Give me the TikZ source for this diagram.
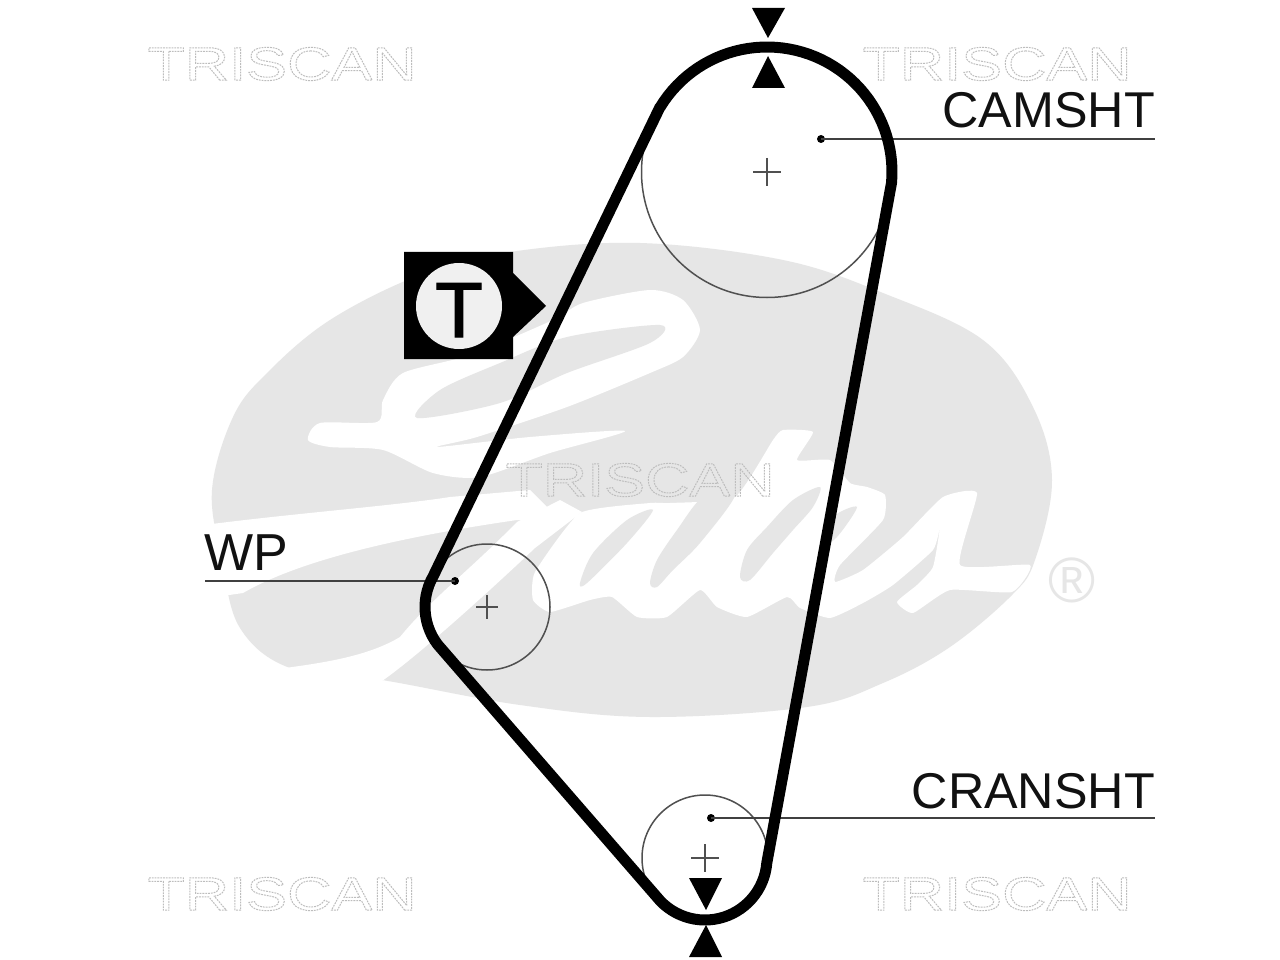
\documentclass[tikz,border=0pt]{standalone}
\usepackage{fontspec}
\setmainfont{Liberation Sans}
\newfontfamily\wmfont[FakeStretch=1.305]{Liberation Sans}
\definecolor{logogrey}{HTML}{E6E6E6}
\definecolor{thinline}{HTML}{505050}
\definecolor{leader}{HTML}{404040}
\definecolor{labeltext}{HTML}{111111}
\newcommand{\outlinetext}[1]{\special{pdf:code q 1 Tr 1.0 w 0.74 0.74 0.74 RG [1.8 1.0] 0 d}#1\special{pdf:code Q}}
\newcommand{\boldtext}[1]{\special{pdf:code q 2 Tr 1.3 w 0 0 0 RG}#1\special{pdf:code Q}}
\tikzset{
  lab/.style={anchor=base east,inner sep=0pt,text=labeltext,font=\fontsize{50.3}{50}\selectfont},
  wm/.style={anchor=center,inner sep=0pt,font=\wmfont\fontsize{47}{47}\selectfont},
  pulley/.style={circle,draw=thinline,line width=1.5pt,inner sep=0pt},
  dotn/.style={circle,fill=black,inner sep=0pt,minimum size=8pt},
  leaderline/.style={draw=leader,line width=2.5pt},
  crossline/.style={draw=thinline,line width=2pt},
  beltline/.style={draw=black,line width=11pt,line join=round},
  timingmark/.style={fill=black},
  logofill/.style={fill=logogrey},
  logowhite/.style={fill=white}
}
\begin{document}
\begin{tikzpicture}[x=1pt,y=-1pt]
\useasboundingbox (0,0) rectangle (1280,960);
\fill[white] (0,0) rectangle (1280,960);
% logo body
\fill[logofill] plot[smooth cycle,tension=.6] coordinates {(212,490)(233,417)(267,373)(330,320)(420,275)(510,252)(640,243)(783,260)(883,293)(983,340)(1033,407)(1052,480)(1035,560)(1012,595)(950,647)(883,683)(807,707)(650,717)(520,705)(382,680)(290,668)(240,628)(222,560)};
% white band between lobes
\fill[logowhite] (195,526) -- (220,523) .. controls (300,513) and (400,505) .. (450,497) -- (530,490) -- (560,520) -- (517,520) .. controls (400,537) and (300,560) .. (243,593) -- (195,600) -- cycle;
% descender
\fill[logowhite] (517,522) .. controls (470,570) and (430,600) .. (400,637) .. controls (370,655) and (330,662) .. (285,668) -- (290,700) -- (382,681) .. controls (415,658) and (480,600) .. (535,548) -- (582,512) -- (560,500) -- cycle;
% G top
\fill[logowhite] plot[smooth cycle,tension=.45] coordinates {(308,440)(320,423)(377,422)(383,400)(403,373)(470,355)(553,320)(583,303)(650,290)(683,300)(700,330)(683,357)(650,373)(567,407)(477,437)(437,447)(530,437)(625,431)(550,453)(480,477)(433,473)(383,450)(330,447)};
\fill[logofill] plot[smooth cycle,tension=.5] coordinates {(417,418)(440,390)(500,363)(567,337)(660,325)(650,343)(567,373)(500,403)};
% script body
\fill[logowhite] plot[smooth cycle,tension=.3] coordinates {(580,513)(650,503)(670,503)(735,497)(773,440)(783,430)(813,432)(797,460)(830,460)(850,483)(867,487)(885,495)(883,520)(840,565)(835,582)(863,570)(903,537)(943,497)(977,493)(960,565)(1030,565)(1012,592)(950,590)(913,613)(897,602)(917,585)(933,567)(940,527)(933,550)(893,585)(863,603)(830,618)(800,608)(787,597)(747,617)(717,607)(700,590)(667,617)(637,617)(612,597)(590,600)(550,612)(533,600)(535,572)};
% script counters
\fill[logofill] plot[smooth cycle,tension=.5] coordinates {(580,583)(587,583)(627,543)(653,510)(627,520)(593,553)};
\fill[logofill] plot[smooth cycle,tension=.5] coordinates {(650,583)(657,587)(673,570)(700,543)(735,495)(703,497)(677,530)(657,560)};
\fill[logofill] plot[smooth cycle,tension=.5] coordinates {(740,577)(750,580)(773,553)(793,530)(813,507)(820,487)(793,500)(767,527)(747,550)};
\fill[logofill] plot[smooth cycle,tension=.5] coordinates {(833,517)(857,507)(837,537)(820,547)};
\node[inner sep=0pt,text=logogrey,font=\fontsize{64}{64}\selectfont] (reg) at (1072,580) {®};
% watermarks
\node[wm] (wm1) at (282,64) {\outlinetext{TRISCAN}};
\node[wm] (wm2) at (997,64) {\outlinetext{TRISCAN}};
\node[wm] (wm3) at (640,480) {\outlinetext{TRISCAN}};
\node[wm] (wm4) at (282,894) {\outlinetext{TRISCAN}};
\node[wm] (wm5) at (997,894) {\outlinetext{TRISCAN}};
% pulleys
\node[pulley,minimum size=251pt] (cam) at (767,172) {};
\node[pulley,minimum size=126pt] (wp) at (487,607) {};
\node[pulley,minimum size=126pt] (crank) at (705,858) {};
\draw[crossline] (cam.center) +(-14,0) -- +(14,0) (cam.center) +(0,-14) -- +(0,14);
\draw[crossline] (wp.center) +(-11,0) -- +(11,0) (wp.center) +(0,-12) -- +(0,12);
\draw[crossline] (crank.center) +(-14,0) -- +(14,0) (crank.center) +(0,-14) -- +(0,14);
% leaders
\node[dotn] (camdot) at (821,139) {};
\node[dotn] (wpdot) at (455,581) {};
\node[dotn] (crankdot) at (711,818) {};
\coordinate (camend) at (1155,139);
\coordinate (wpend) at (205,581);
\coordinate (crankend) at (1155,818);
\draw[leaderline] (camdot.center) -- (camend);
\draw[leaderline] (wpdot.center) -- (wpend);
\draw[leaderline] (crankdot.center) -- (crankend);
\node[lab] (camlab) at (1155,128) {CAMSHT};
\node[lab] (cranklab) at (1155,808) {CRANSHT};
\node[lab,anchor=base west,font=\fontsize{52}{52}\selectfont] (wplab) at (204,570) {WP};
% belt
\draw[beltline] (433.3,576) -- (660,107)
  -- plot[domain=-148.7:5,samples=50] ({767+125*cos(\x)},{172+125*sin(\x)})
  -- plot[domain=4.6:136,samples=30] ({705+62*cos(\x)},{858+62*sin(\x)})
  -- plot[domain=142.8:210,samples=15] ({487+62*cos(\x)},{607+62*sin(\x)})
  -- cycle;
% timing marks
\fill[timingmark] (752,8) -- (785,8) -- (768,38) -- cycle;
\fill[timingmark] (752,88) -- (785,88) -- (768,56) -- cycle;
\fill[timingmark] (689,878) -- (722,878) -- (706,910) -- cycle;
\fill[timingmark] (689,957) -- (722,957) -- (706,925) -- cycle;
% tensioner symbol
\fill[black] (404,252) -- (513,252) -- (513,273) -- (546,306) -- (513,337) -- (513,359) -- (404,359) -- cycle;
\node[circle,fill=logogrey!60!white,inner sep=0pt,minimum size=86pt] (tcirc) at (459,306) {};
\node[anchor=base,inner sep=0pt,font=\fontsize{78}{78}\selectfont] (tlab) at (459,337) {\boldtext{T}};
\end{tikzpicture}
\end{document}
